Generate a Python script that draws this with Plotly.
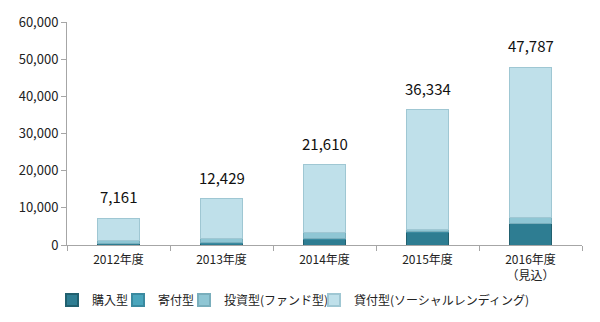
import plotly.graph_objects as go

categories = ["2012年度", "2013年度", "2014年度", "2015年度", "2016年度<br>（見込）"]
kounyu = [300, 500, 1600, 3300, 5700]
kifu = [100, 100, 200, 200, 200]
toushi = [900, 1100, 1500, 600, 1400]
totals = [7161, 12429, 21610, 36334, 47787]
kashitsuke = [t - a - b - c for t, a, b, c in zip(totals, kounyu, kifu, toushi)]
series_names = ["購入型", "寄付型", "投資型(ファンド型)", "貸付型(ソーシャルレンディング)"]
colors = ["#2e7d92", "#4aa6bd", "#8fc6d4", "#bfe0ea"]
lines = ["#21606f", "#3a8aa0", "#79aebc", "#9fc7d3"]
legend_ids = ["legend", "legend2", "legend3", "legend4"]
legend_x = [52, 118, 184, 314]

fig = go.Figure()
for name, vals, c, lc, lid in zip(series_names, [kounyu, kifu, toushi, kashitsuke], colors, lines, legend_ids):
    fig.add_trace(go.Bar(x=categories, y=vals, name=name, legend=lid,
                         marker=dict(color=c, line=dict(color=lc, width=1)), width=0.4))

for cat, t in zip(categories, totals):
    fig.add_annotation(x=cat, y=t, text=f"{t:,}", showarrow=False, yanchor="bottom", yshift=9,
                       font=dict(size=15, color="#111"))

legend_common = dict(orientation="h", xref="container", yref="container", xanchor="left",
                     y=1 - 300 / 322, yanchor="middle", font=dict(size=12, color="#222"),
                     itemwidth=30, itemsizing="constant", bgcolor="rgba(0,0,0,0)")
legends = {}
for lid, lx in zip(legend_ids, legend_x):
    legends[lid] = dict(legend_common, x=lx / 600)

fig.update_layout(
    barmode="stack",
    width=600, height=322,
    margin=dict(l=67, r=18, t=22, b=77, autoexpand=False),
    plot_bgcolor="white", paper_bgcolor="white",
    font=dict(family="Noto Sans CJK JP", size=12, color="#222"),
    showlegend=True,
    bargap=0.6,
    **legends,
)
fig.update_yaxes(range=[0, 60000], dtick=10000, tickformat=",", showgrid=False, showline=True,
                 linecolor="#a6a6a6", ticks="outside", ticklen=5, tickcolor="#a6a6a6", zeroline=False,
                 tickfont=dict(size=13, family="Noto Sans CJK JP"))
fig.update_xaxes(showline=True, linecolor="#a6a6a6", ticks="outside", tickson="boundaries", ticklen=5,
                 tickcolor="#a6a6a6", ticklabelstandoff=4, tickfont=dict(size=12, family="Noto Sans CJK JP"))

fig.write_html("out.html")
